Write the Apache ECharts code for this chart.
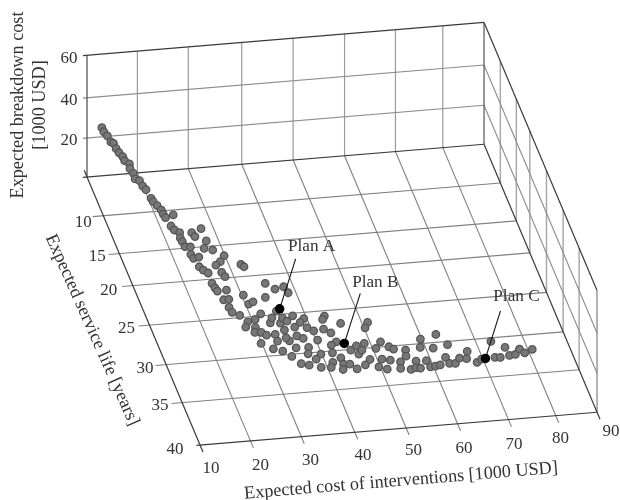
<!DOCTYPE html>
<html><head><meta charset="utf-8">
<style>html,body{margin:0;padding:0;background:#fff}#c{width:620px;height:500px}</style>
<script src="https://cdn.jsdelivr.net/npm/echarts@6/dist/echarts.min.js"></script>
</head><body><div id="c"></div>
<script>
// ---- data ----
const costValues = [11.9,12.1,12.6,13.1,13.5,13.9,14.3,15,15.2,16,15.9,16.5,16.7,17.4,17.9,18.4,19,19.3,19.9,20.5,20.7,21,
23,21.7,22,22.8,25.1,25.4,27.2,22.5,27.2,22.6,22.7,23.7,26.2,27.7,23.2,23.4,24.5,29.4,28.2,27.1,23.8,24.3,25,31.9,32.3,27.6,27.9,24.9,25.1,25.3,27.1,25.8,26.8,26.2,26.4,27.6,29.9,30.2,31.2,35,36.4,38.2,38.6,33.9,31.7,30.2,28.6,27.8,29.6,29.1,30.3,31.1,29.4,32.8,32.7,31.3,32.9,34.2,35.7,35,34.6,34.9,34.7,32.8,33.5,34.9,35.5,36.1,37.6,39.5,38.5,37.1,39.4,36.8,37.8,38.1,37.5,35.4,36.8,40.4,43.6,43,42.4,43.5,46.1,40.4,43.8,42.6,39.9,38.6,42.2,38.9,41.5,40.8,43.4,43.4,42.9,44.6,45.6,47.5,48.8,45.9,47.3,47.1,48,49,51.3,50.4,50.8,52.2,53.4,54.1,51.1,49.9,51.3,52.6,54.4,53.9,56.3,55.9,60,59.3,55.8,57.4,56.9,57.7,59.4,59.7,60.7,63.3,61.7,64.7,63.3,61.7,63.6,64.7,65.9,67.2,67.9,68.9,70,73.2,72.7,73.7,75.4,75.6,76.8,78,78.7,80.4];
const lifeValues = [6.46,6.75,7.07,7.36,7.56,7.76,8.06,8.07,8.35,8.57,8.92,9.04,9.26,9.53,9.74,9.97,10.63,10.82,11.12,11.47,11.74,11.97,
11.18,12.59,13.14,13.55,13.68,14.22,13.24,14.25,14.91,14.75,15.43,15.52,15.84,16.15,16.48,17.03,16.92,17.02,17.75,18.14,18.18,18.65,19.09,18.31,18.66,19.15,19.75,20.47,21.08,21.53,21.5,22.73,22.73,23.78,24.46,24.93,22.33,23.56,23.31,21.04,21.89,21.68,22.51,22.86,24.95,25.62,25.85,26.52,26.66,27.3,27.37,27.78,28.8,27.78,28.68,29.63,30.03,30.82,29.75,28.76,28.34,27.32,26.37,26.22,25.59,24.76,25.7,26.18,25.55,26.03,26.49,27.04,27.24,28.19,28.6,29.83,30.65,31.86,32.14,27.72,25.93,26.34,27.61,28.17,27.05,28.97,29.39,29.77,30.83,31.43,30.78,32.56,32.03,32.67,31.52,32.37,33.06,32.44,33.13,32.69,32.04,30.63,30.13,31.23,30.75,29.9,27.21,27.88,30.68,29.87,30.6,30.95,32.13,33.1,33.49,32.35,32.68,33.54,31.21,32,29.94,31.02,33.78,32.76,33.6,33.71,32.81,33.65,33.61,29.5,31.25,30.96,32.59,33.51,33.41,33.47,32.83,32.98,32.03,33.57,33.2,30.99,33.11,33.18,31.92,33.02,32.95,32.3,32.84,32.48];
const breakdownHead = [30,29,28,26,26,24,23,21,20,19,18,16,14,14,12,11,9,8,7,6,5,4];
const breakdownRest = 2;

const planNames = ['Plan A','Plan B','Plan C'];
const planCost = [35.7,45.2,70.8];
const planLife = [24.5,29.69,33.15];
const planBreakdown = [2,2,2];

const costTickLabels = ['10','20','30','40','50','60','70','80','90'];
const costTicks = [10,19.9,29.9,40.4,50.5,60.6,70.6,79.9,88];
const lifeTickLabels = ['10','15','20','25','30','35','40'];
const lifeTicks = [10,15.1,19.4,24.7,30,35.1,40.8];
const breakdownTickLabels = ['20','40','60'];
const breakdownTicks = [19.2,39,60];

// ---- oblique view of the three value axes ----
const costMin = 10, costMax = 88, lifeMin = 4.8, lifeMax = 40.8, zMax = 60;
function view(c, l, z) {
  return [87 + (c - 10) * 5.09 + (l - lifeMin) * 3.139,
          177 - (c - 10) * 0.42 + (l - lifeMin) * 7.444 - z * 2.03];
}
const DARK = '#3a3a3a', GRID = '#8c8c8c', TXT = '#333333', FONT = '"Liberation Serif"';
const series = [];
function seg(a, b, color, width) {
  series.push({type:'line', silent:true, symbol:'none', animation:false, clip:false,
    lineStyle:{color, width}, data:[view(...a), view(...b)], z:1});
}
// back wall + right wall grid
costTicks.slice(1, -1).forEach(c => seg([c,lifeMin,0],[c,lifeMin,zMax],'#9a9a9a',1.2));
lifeTicks.slice(0, -1).forEach(l => seg([costMax,l,0],[costMax,l,zMax],'#a5a5a5',1.4));
breakdownTicks.slice(0, -1).forEach(z => {
  seg([9.2,lifeMin,z],[costMax,lifeMin,z],GRID,1.1);
  seg([costMax,lifeMin,z],[costMax,lifeMax,z],GRID,1.1);
});
// floor grid
costTicks.slice(1, -1).forEach(c => seg([c,lifeMin,0],[c,lifeMax+0.95,0],'#808080',1.1));
lifeTicks.slice(0, -1).forEach(l => seg([7.9,l,0],[costMax,l,0],'#808080',1.1));
// box edges
seg([10,lifeMin,0],[10,lifeMin,zMax],'#555',1.3);
seg([costMax,lifeMin,0],[costMax,lifeMin,zMax],'#555',1.2);
seg([costMax,lifeMax,0],[costMax,lifeMax,zMax],'#888',1.3);
seg([9.2,lifeMin,zMax],[costMax,lifeMin,zMax],DARK,1.2);
seg([costMax,lifeMin,zMax],[costMax,lifeMax,zMax],DARK,1.2);
seg([9.2,lifeMin,0],[costMax,lifeMin,0],DARK,1.2);
seg([10,lifeMin-0.9,0],[10,lifeMax+0.95,0],DARK,1.2);
seg([costMax,lifeMin,0],[costMax,lifeMax+0.95,0],DARK,1.2);
seg([9.3,lifeMax,0],[costMax,lifeMax,0],DARK,1.2);

// solutions
const pts = costValues.map((c,i) => view(c, lifeValues[i], i < breakdownHead.length ? breakdownHead[i] : breakdownRest));
series.push({type:'scatter', animation:false, clip:false, z:5, symbolSize:7.5, data:pts,
  itemStyle:{color:'#777777', borderColor:'#555555', borderWidth:1.3, opacity:1}});
const planPts = planNames.map((n,i) => view(planCost[i], planLife[i], planBreakdown[i]));
// plan leader lines
const leaderEnds = [[16,-50],[16,-50],[15,-47.5]];
planPts.forEach((p,i) => series.push({type:'line', silent:true, symbol:'none', animation:false, clip:false, z:6,
  lineStyle:{color:'#111', width:1.1}, data:[p,[p[0]+leaderEnds[i][0], p[1]+leaderEnds[i][1]]]}));
series.push({type:'scatter', animation:false, clip:false, z:7, symbolSize:9.5, data:planPts,
  itemStyle:{color:'#000', opacity:1}});

// text labels through a symbol-less scatter
function textSeries(items, size) {
  series.push({type:'scatter', animation:false, clip:false, silent:true, z:8, symbolSize:0,
    itemStyle:{opacity:1},
    data:items.map(t => ({value:t.p, label:{show:true, formatter:t.s, position:'inside', align:'center',
      verticalAlign:'middle', fontFamily:FONT, fontSize:size, color:TXT, opacity:1}}))});
}
const planLabelOffset = [[32,-62],[31,-61],[31,-62]];
textSeries(planNames.map((n,i)=>({s:n,p:[planPts[i][0]+planLabelOffset[i][0],planPts[i][1]+planLabelOffset[i][1]]})),17.2);
const costDy = [24,25,24,23,23,24.5,25,23,19];
textSeries(costTickLabels.map((s,i)=>{const p=view(costTicks[i],lifeMax,0);
  return {s,p:[p[0]+(i===8?14:11-i*0.9),p[1]+costDy[i]]};}),17);
const lifeDx = [-20,-22,-24,-23,-21,-22,-25], lifeDy = [7,3,5,3,4,3,5];
textSeries(lifeTickLabels.map((s,i)=>{const p=view(10,lifeTicks[i],0);
  return {s,p:[p[0]+lifeDx[i],p[1]+lifeDy[i]]};}),17);
textSeries(breakdownTickLabels.map((s,i)=>{const p=view(10,lifeMin,breakdownTicks[i]);
  return {s,p:[p[0]-18,p[1]+3]};}),17);

const title = (t,x,y,rot) => ({type:'text', x, y, rotation:rot*Math.PI/180, silent:true, z:20,
  style:{text:t, fill:TXT, font:'18.2px '+FONT, align:'center', verticalAlign:'middle'}});

echarts.init(document.getElementById('c'), null, {renderer:'canvas'}).setOption({
  animation:false, backgroundColor:'#fff',
  grid:{left:0,right:0,top:0,bottom:0},
  xAxis:{type:'value',min:0,max:620,show:false},
  yAxis:{type:'value',min:0,max:500,inverse:true,show:false},
  tooltip:{show:false}, legend:{show:false},
  series,
  graphic:[
    title('Expected breakdown cost',18,105,90),
    title('[1000 USD]',40,105,90),
    title('Expected service life [years]',92,330,-66),
    title('Expected cost of interventions [1000 USD]',401,481,4.7)
  ]
});
</script></body></html>
